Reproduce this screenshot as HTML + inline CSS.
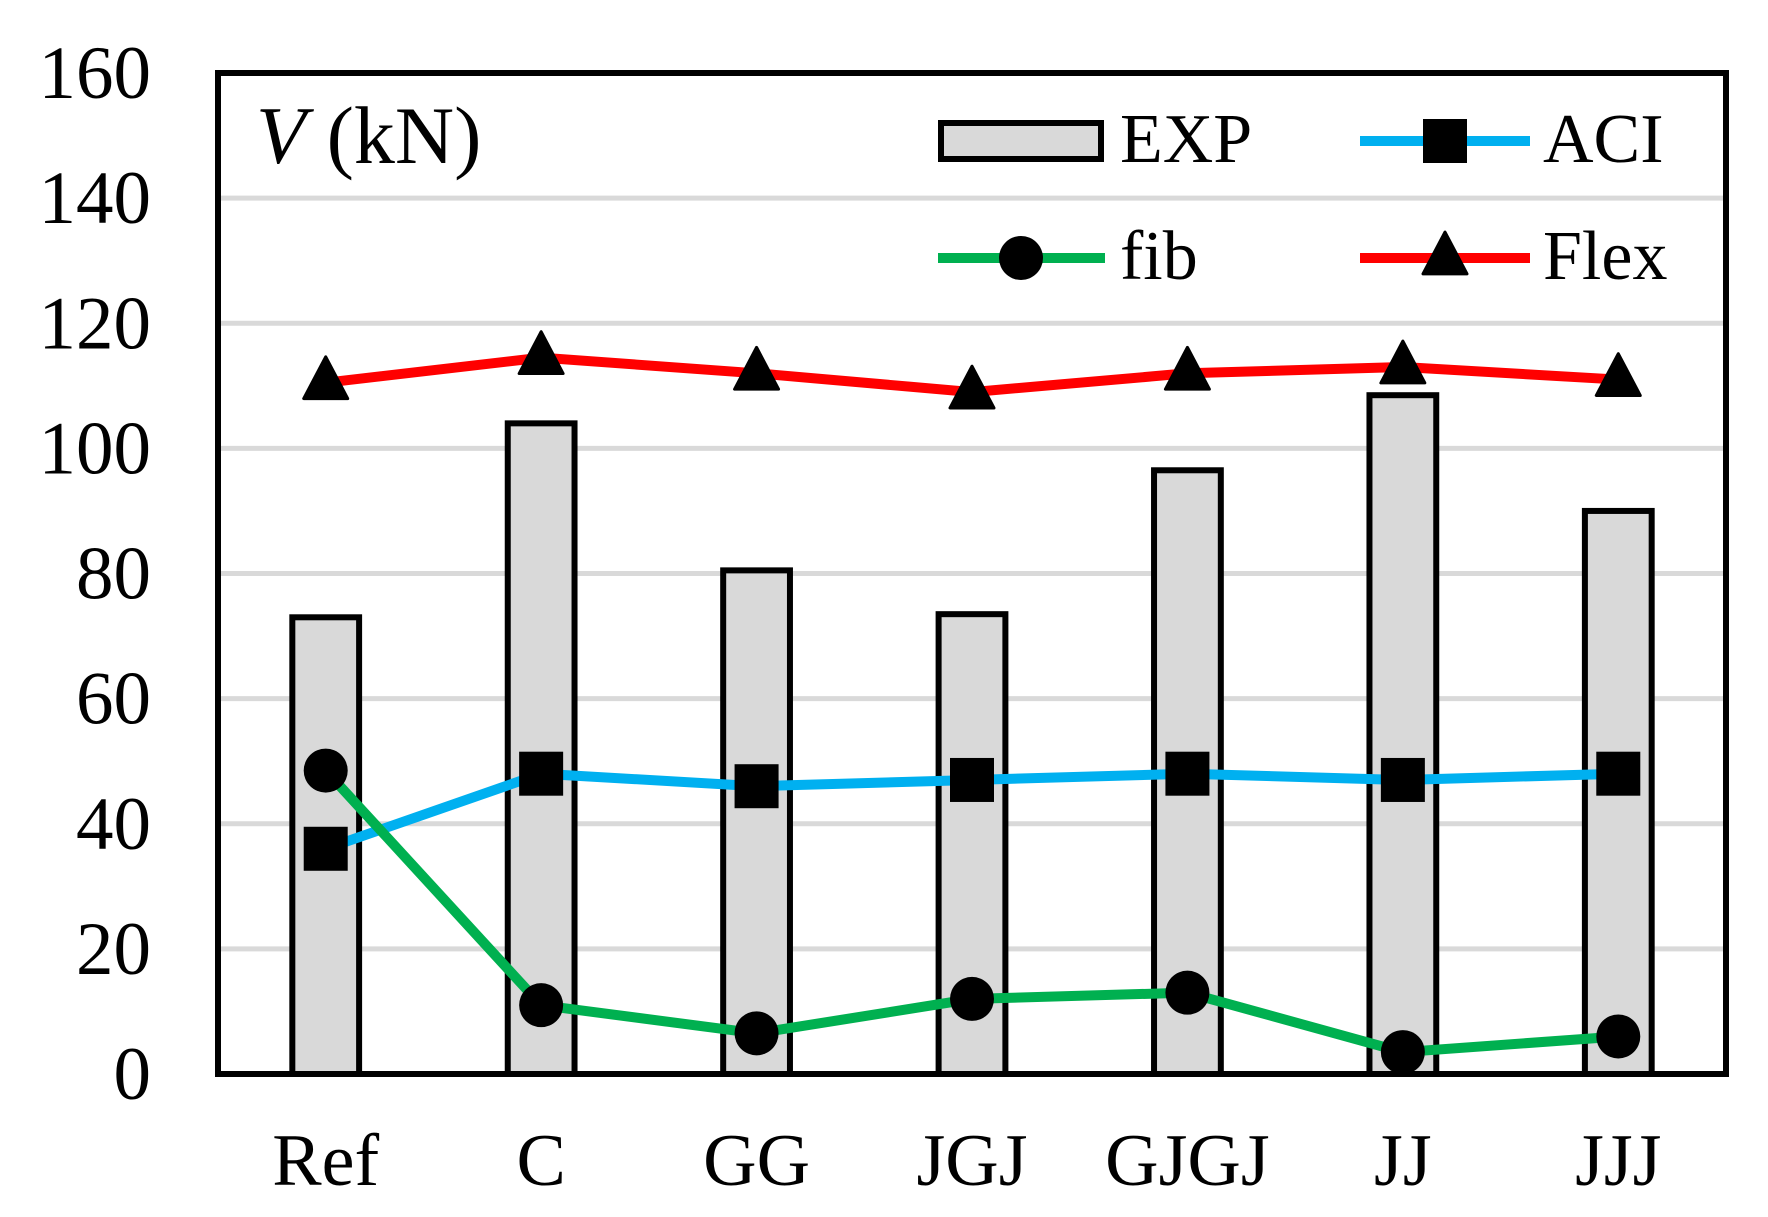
<!DOCTYPE html>
<html><head><meta charset="utf-8"><style>
html,body{margin:0;padding:0;background:#fff;}
svg{display:block;font-family:"Liberation Serif",serif;}
</style></head><body>
<svg id="chart" width="1768" height="1217" viewBox="0 0 1768 1217"></svg>
<script>
const categories = ["Ref","C","GG","JGJ","GJGJ","JJ","JJJ"];
const expValues = [73, 104, 80.5, 73.5, 96.5, 108.5, 90];
const aciValues = [36, 48, 46, 47, 48, 47, 48];
const fibValues = [48.5, 11, 6.5, 12, 13, 3.5, 6];
const flexValues = [110.5, 114.5, 112, 109, 112, 113, 111];
const yTicks = [0,20,40,60,80,100,120,140,160];

const NS="http://www.w3.org/2000/svg";
const svg=document.getElementById('chart');
const L=218,R=1726,T=73,B=1074,yMax=160;
const band=(R-L)/categories.length;
const x=i=>L+band*(i+0.5);
const y=v=>B-(v/yMax)*(B-T);
function mk(tag,attrs,parent){const e=document.createElementNS(NS,tag);for(const k in attrs)e.setAttribute(k,attrs[k]);(parent||svg).appendChild(e);return e;}

yTicks.forEach((t,i)=>{
  if(t>0&&t<yMax){const g=mk('line',{x1:L,x2:R,y1:y(t),y2:y(t),stroke:'#d9d9d9','stroke-width':5});
  
  }
  const lab=mk('text',{x:151,y:y(t)+25,'text-anchor':'end','font-size':75});
  lab.textContent=t;
  
  
});
const bw=band*0.31;
expValues.forEach((v,i)=>{
  const r=mk('rect',{x:x(i)-bw/2,y:y(v),width:bw,height:B-y(v),fill:'#d9d9d9',stroke:'#000','stroke-width':6});
  
  
});
function series(vals,color,name){
  const p=mk('polyline',{points:vals.map((v,i)=>x(i)+','+y(v)).join(' '),fill:'none',stroke:color,'stroke-width':10});
  
  
}
series(flexValues,'#ff0000','flex');
series(aciValues,'#00b0f0','aci');
series(fibValues,'#00b050','fib');
function tri(cx,cy,s,name){
  const h=s*0.95;
  const t=mk('polygon',{points:`${cx},${cy-h*0.62} ${cx-s/2},${cy+h*0.38} ${cx+s/2},${cy+h*0.38}`,fill:'#000',stroke:'#000','stroke-width':3,'stroke-linejoin':'round'});
  
  
}
flexValues.forEach((v,i)=>tri(x(i),y(v),44,'flex-marker-'+categories[i].toLowerCase()));
aciValues.forEach((v,i)=>{
  const s=mk('rect',{x:x(i)-22,y:y(v)-22,width:44,height:44,fill:'#000'});
  
  
});
fibValues.forEach((v,i)=>{
  const c=mk('circle',{cx:x(i),cy:y(v),r:22,fill:'#000'});
  
  
});
const fr=mk('rect',{x:L,y:T,width:R-L,height:B-T,fill:'none',stroke:'#000','stroke-width':6});


categories.forEach((c,i)=>{
  const t=mk('text',{x:x(i),y:1185,'text-anchor':'middle','font-size':74});
  t.textContent=c;
  
  
});
const at=mk('text',{x:256,y:163,'font-size':82});


at.innerHTML='<tspan font-style="italic">V</tspan> (kN)';
const lg=mk('g',{});


const lb=mk('rect',{x:941,y:123,width:160,height:36,fill:'#d9d9d9',stroke:'#000','stroke-width':6},lg);


function ltext(tx,ty,s,n){const t=mk('text',{x:tx,y:ty,'font-size':70},lg);t.textContent=s;

}
ltext(1120,162,'EXP','legend-exp-label');
mk('line',{x1:1360,x2:1530,y1:141,y2:141,stroke:'#00b0f0','stroke-width':10},lg);
mk('rect',{x:1423,y:119,width:44,height:44,fill:'#000'},lg);
ltext(1543,162,'ACI','legend-aci-label');
mk('line',{x1:938,x2:1105,y1:258,y2:258,stroke:'#00b050','stroke-width':10},lg);
mk('circle',{cx:1021,cy:258,r:22,fill:'#000'},lg);
ltext(1120,279,'fib','legend-fib-label');
mk('line',{x1:1360,x2:1530,y1:258,y2:258,stroke:'#ff0000','stroke-width':10},lg);
tri(1445,258,44,'legend-flex-marker');
ltext(1543,279,'Flex','legend-flex-label');
</script>
</body></html>
